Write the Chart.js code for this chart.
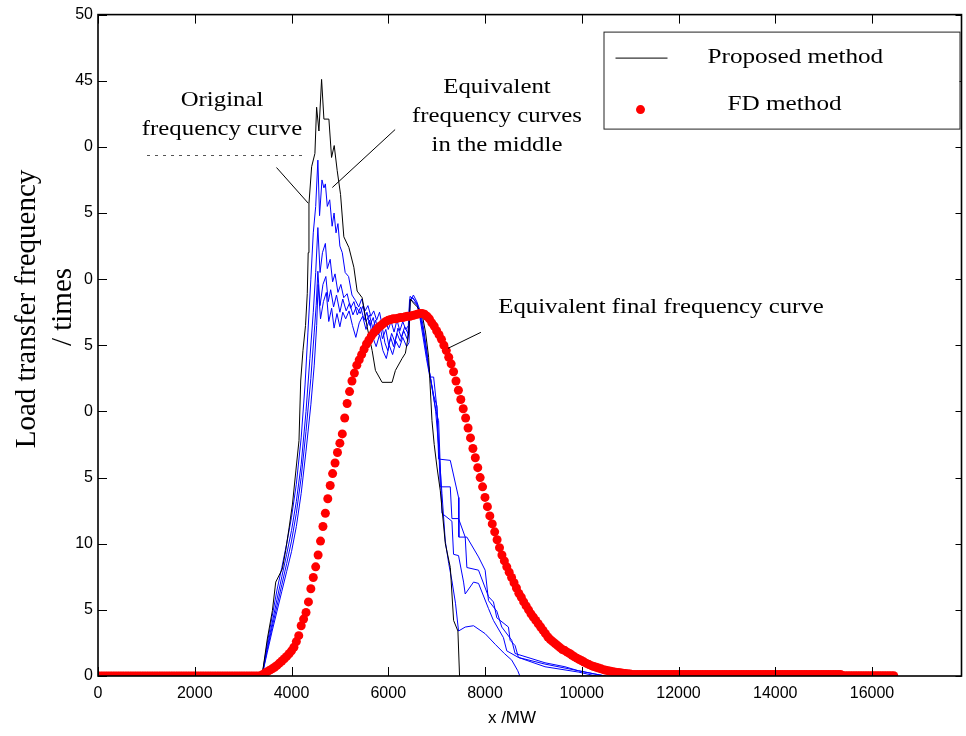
<!DOCTYPE html>
<html>
<head>
<meta charset="utf-8">
<script src="https://cdn.jsdelivr.net/npm/chart.js@4.4.1/dist/chart.umd.min.js"></script>
<style>
html,body{margin:0;padding:0;background:#ffffff;}
#wrap{width:966px;height:736px;}
</style>
</head>
<body>
<div id="wrap"><canvas id="c" width="966" height="736"></canvas></div>
<script>
// ---------------- DATA ----------------
const xTickValues = [0, 2000, 4000, 6000, 8000, 10000, 12000, 14000, 16000];
const yTickValues = [0, 5, 10, 15, 20, 25, 30, 35, 40, 45, 50];
const yTickLabels = ["0", "5", "10", "5", "0", "5", "0", "5", "0", "45", "50"];
const xAxisMin = 0, xAxisMax = 17850;
const yAxisMin = 0, yAxisMax = 50;

// Original frequency curve (Proposed method, black)
const originalX = [0, 3390, 3500, 3605, 3674, 3811, 3880, 3950, 4020, 4090, 4155, 4190, 4237, 4290, 4326, 4345, 4361, 4416, 4484, 4519, 4567, 4622, 4670, 4773, 4828, 4883, 4945, 5014, 5082, 5186, 5289, 5357, 5460, 5563, 5667, 5735, 5873, 6079, 6148, 6285, 6354, 6423, 6457, 6520, 6600, 6697, 6770, 6835, 6904, 6950, 7007, 7076, 7180, 7283, 7351, 7440, 7474, 16450];
const originalY = [0, 0, 2.8, 4.95, 7.1, 8.1, 9.5, 11.2, 13.0, 15.5, 17.8, 22.3, 24.6, 26.5, 28.9, 32.0, 35.7, 38.5, 39.5, 43.0, 41.2, 45.1, 42.1, 42.1, 39.2, 40.1, 38.2, 36.4, 33.2, 32.4, 30.9, 29.1, 28.6, 26.4, 24.6, 23.1, 22.2, 22.2, 23.1, 24.0, 24.4, 25.9, 28.5, 28.2, 27.9, 27.4, 26.0, 24.1, 19.3, 17.5, 15.8, 14.0, 10.0, 8.2, 4.2, 3.4, 0, 0];

// Equivalent frequency curves in the middle (blue)
const middle1X = [3000, 3390, 3500, 3600, 3700, 3800, 3900, 4000, 4100, 4200, 4280, 4340, 4400, 4450, 4500, 4545, 4580, 4630, 4670, 4700, 4740, 4790, 4840, 4880, 4920, 4960, 5000, 5050, 5110, 5180, 5250, 5320, 5390, 5450, 5520, 5580, 5640, 5700, 5760, 5820, 5880, 5940, 6000, 6060, 6120, 6180, 6240, 6300, 6360, 6420, 6450, 6520, 6600, 6660, 6720, 6780, 6850, 6920, 6980, 7050, 7110, 7179, 7250, 7316, 7390, 7453, 7591, 7763, 8003, 8210, 8400, 8553, 8677, 8720];
const middle1Y = [0, 0, 2.5, 4.5, 6.5, 8.2, 10, 12, 14.5, 18, 22, 26, 30, 33.5, 35.5, 39.0, 34.8, 37.5, 36.9, 37.2, 35.5, 36.0, 34.0, 35.0, 33.5, 34.2, 32.5, 32.0, 30.5, 30.2, 28.8, 28.4, 27.9, 28.5, 27.6, 28.0, 27.2, 27.6, 26.9, 27.5, 26.4, 27.1, 26.2, 26.8, 26.0, 26.9, 26.1, 26.8, 26.2, 26.5, 28.7, 28.5, 28.2, 27.6, 26.5, 25.0, 23.0, 21.5, 20.0, 17.0, 13.8, 10.2, 8.5, 7.2, 5.5, 3.4, 3.7, 3.8, 3.2, 2.4, 1.7, 1.2, 0.4, 0];

const middle2X = [3000, 3390, 3500, 3600, 3700, 3800, 3900, 4000, 4100, 4200, 4300, 4380, 4450, 4500, 4545, 4590, 4640, 4700, 4740, 4800, 4850, 4900, 4960, 5020, 5080, 5150, 5220, 5290, 5360, 5430, 5500, 5560, 5620, 5690, 5750, 5820, 5880, 5950, 6010, 6070, 6140, 6200, 6270, 6340, 6420, 6450, 6520, 6600, 6660, 6720, 6790, 6860, 6940, 7000, 7041, 7110, 7316, 7350, 7453, 7557, 7591, 7763, 7866, 8072, 8175, 8381, 8450, 8691, 9240, 9928, 10300];
const middle2Y = [0, 0, 2.2, 4, 5.8, 7.5, 9.2, 11, 13.2, 16, 20, 24, 27.5, 30.5, 33.9, 30.5, 32.0, 32.7, 30.8, 31.5, 29.8, 30.4, 29.0, 29.6, 28.6, 28.9, 27.8, 28.3, 27.3, 27.9, 26.9, 27.5, 26.5, 27.1, 26.0, 26.6, 25.5, 26.2, 25.0, 25.9, 25.2, 26.3, 25.6, 26.4, 25.8, 28.5, 28.3, 28.0, 27.3, 26.2, 24.6, 22.8, 21.0, 19.8, 19.3, 12.3, 11.7, 9.2, 9.1, 7.1, 6.2, 7.1, 7.0, 5.1, 4.2, 2.9, 1.9, 1.4, 0.7, 0.3, 0];

const middle3X = [3000, 3390, 3500, 3600, 3700, 3800, 3900, 4000, 4100, 4200, 4300, 4400, 4470, 4510, 4545, 4590, 4650, 4710, 4760, 4810, 4870, 4930, 5000, 5060, 5130, 5200, 5270, 5340, 5420, 5480, 5540, 5610, 5680, 5740, 5800, 5870, 5930, 5990, 6050, 6110, 6180, 6250, 6320, 6400, 6440, 6510, 6590, 6650, 6720, 6790, 6870, 6940, 7007, 7076, 7282, 7316, 7453, 7591, 7625, 7866, 8072, 8175, 8244, 8485, 8519, 8622, 8691, 9240, 9928, 10271, 10500];
const middle3Y = [0, 0, 2, 3.7, 5.3, 6.9, 8.5, 10.2, 12.3, 15, 18.5, 22.5, 26, 28, 30.6, 28.0, 29.6, 30.2, 28.3, 29.2, 27.9, 28.8, 27.5, 28.5, 27.6, 28.2, 27.3, 27.9, 27.4, 28.0, 26.8, 27.3, 26.3, 26.9, 25.8, 26.5, 25.2, 24.6, 25.6, 24.9, 25.9, 25.3, 26.1, 25.4, 28.4, 28.6, 28.1, 27.4, 26.0, 24.3, 22.6, 21.2, 20.4, 14.3, 14.3, 11.9, 11.9, 10.5, 8.2, 8.0, 6.0, 5.6, 4.4, 3.7, 2.7, 2.3, 1.4, 0.9, 0.4, 0.15, 0];

const middle4X = [3000, 3390, 3500, 3600, 3700, 3800, 3900, 4000, 4100, 4200, 4300, 4400, 4470, 4520, 4550, 4600, 4660, 4720, 4770, 4830, 4880, 4940, 5000, 5060, 5120, 5190, 5260, 5330, 5400, 5470, 5540, 5610, 5680, 5750, 5820, 5890, 5960, 6020, 6090, 6160, 6230, 6300, 6380, 6430, 6450, 6520, 6590, 6650, 6720, 6790, 6860, 6938, 7007, 7041, 7282, 7453, 7460, 7625, 7866, 8003, 8072, 8244, 8347, 8553, 8622, 9240, 9653, 9928, 10478];
const middle4Y = [0, 0, 1.8, 3.4, 4.9, 6.4, 7.9, 9.4, 11.3, 13.8, 17, 20.5, 23.5, 26.5, 29.6, 27.0, 28.3, 29.0, 26.8, 27.8, 26.3, 27.4, 26.4, 27.5, 27.0, 27.6, 26.5, 25.6, 26.7, 27.2, 26.2, 26.9, 25.6, 24.9, 25.8, 24.6, 24.0, 25.0, 24.3, 25.3, 24.8, 25.6, 24.9, 25.2, 28.3, 28.8, 28.3, 27.2, 25.6, 24.0, 22.6, 22.6, 20.2, 16.4, 16.3, 13.5, 10.5, 10.5, 9.0, 8.0, 5.7, 4.9, 3.7, 2.7, 1.7, 1.0, 0.7, 0.4, 0];

// FD method (red dots), sampled every 50 MW starting at 0 MW
const fdStartMW = 0, fdStepMW = 50;
const fdValues = [
  0,0,0,0,0,0,0,0,0,0,0,0,0,0,0,0,0,0,0,0,
  0,0,0,0,0,0,0,0,0,0,0,0,0,0,0,0,0,0,0,0,
  0,0,0,0,0,0,0,0,0,0,0,0,0,0,0,0,0,0,0,0,
  0,0,0,0,0,0,0,0,
  0.1,0.22,0.33,0.44,0.54,0.66,0.8,0.97,1.13,1.3,1.48,1.68,
  1.9,2.17,2.6,3.05,3.8,4.3,4.8,5.6,6.6,7.45,8.25,9.15,10.2,11.3,12.3,13.4,14.4,15.3,16.1,16.9,
  17.6,18.3,19.5,20.6,21.5,22.3,22.9,23.5,23.9,24.3,24.7,25.1,25.4,25.7,25.95,26.15,26.35,26.5,26.65,26.8,
  26.9,26.95,27.0,27.0,27.05,27.1,27.1,27.15,27.2,27.2,27.25,27.3,27.35,27.4,27.4,27.35,27.2,27.0,26.7,26.45,
  26.1,25.8,25.45,25.0,24.6,24.1,23.6,23.0,22.3,21.6,20.9,20.2,19.5,18.75,18.0,17.2,16.5,15.75,15.0,14.3,
  13.5,12.8,12.1,11.5,10.9,10.3,9.7,9.15,8.7,8.25,7.85,7.45,7.05,6.65,6.25,5.95,5.6,5.3,5.0,4.7,
  4.45,4.2,3.95,3.7,3.45,3.2,2.95,2.75,2.6,2.45,2.3,2.15,2.0,1.92,1.8,1.7,1.57,1.45,1.35,1.25,
  1.15,1.05,0.95,0.86,0.78,0.72,0.66,0.6,0.54,0.48,0.43,0.39,0.35,0.32,0.29,0.27,0.24,0.21,0.19,0.17,
  0.15,0.12,0.12,0.12,0.12,0.12,0.12,0.12,0.12,0.12,0.12,0.12,0.12,0.12,0.12,0.12,0.12,0.12,0.12,0.12,
  0.12,0.12,0.12,0.12,0.12,0.12,0.12,0.12,0.12,0.12,0.12,0.12,0.12,0.12,0.12,0.12,0.12,0.12,0.12,0.12,
  0.12,0.12,0.12,0.12,0.12,0.12,0.12,0.12,0.12,0.12,0.12,0.12,0.12,0.12,0.12,0.12,0.12,0.12,0.12,0.12,
  0.12,0.12,0.12,0.12,0.12,0.12,0.12,0.12,0.12,0.12,0.12,0.12,0.12,0.12,0.12,0.12,0.12,0.12,0.12,0.12,
  0.12,0.12,0.12,0.12,0.12,0.12,0.12,0.12,
  0.02,0.02,0.02,0.02,0.02,0.02,0.02,0.02,0.02,0.02,0.02,0.02,
  0.02,0.02,0.02,0.02,0.02,0.02,0.02,0.02,0.02,0.02
];

const legendLabels = ["Proposed method", "FD method"];
const yTitleLines = ["Load transfer frequency", "/ times"];
const xTitle = "x /MW";

// Annotation leader lines in data coordinates [x1,y1,x2,y2]
const leaderOriginal = [3690, 38.44, 4349, 35.73];
const leaderMiddle = [6142, 41.31, 4844, 36.93];
const leaderFinal = [7915, 25.98, 7235, 24.77];

// ---------------- BUILD ----------------
const toPoints = (xs, ys) => xs.map((x, i) => ({x: x, y: ys[i]}));
const fdX = fdValues.map((_, i) => fdStartMW + i * fdStepMW);

const SERIF = "'Liberation Serif', 'Times New Roman', serif";
const SANS = "'Liberation Sans', Arial, sans-serif";

function stretchedText(ctx, text, x, y, size, align, sx) {
  ctx.save();
  ctx.translate(x, y);
  ctx.scale(sx, 1);
  ctx.font = size + 'px ' + SERIF;
  ctx.textAlign = align;
  ctx.textBaseline = 'middle';
  ctx.fillStyle = '#000';
  ctx.fillText(text, 0, 0);
  ctx.restore();
}

const decorPlugin = {
  id: 'decor',
  afterDraw(chart) {
    const {ctx, chartArea: a, scales: {x, y}} = chart;
    ctx.save();
    // inward tick marks
    ctx.strokeStyle = '#000';
    ctx.lineWidth = 1;
    ctx.beginPath();
    xTickValues.forEach(v => {
      const px = Math.round(x.getPixelForValue(v)) + 0.5;
      ctx.moveTo(px, a.bottom); ctx.lineTo(px, a.bottom - 9);
      ctx.moveTo(px, a.top); ctx.lineTo(px, a.top + 9);
    });
    yTickValues.forEach(v => {
      const py = Math.round(y.getPixelForValue(v)) + 0.5;
      ctx.moveTo(a.left, py); ctx.lineTo(a.left + 9, py);
      ctx.moveTo(a.right, py); ctx.lineTo(a.right - 6, py);
    });
    ctx.stroke();
    // frame
    ctx.lineWidth = 1.6;
    ctx.strokeRect(a.left, a.top, a.right - a.left, a.bottom - a.top);

    // leader lines
    ctx.lineWidth = 1;
    ctx.beginPath();
    [leaderOriginal, leaderMiddle, leaderFinal].forEach(l => {
      ctx.moveTo(x.getPixelForValue(l[0]), y.getPixelForValue(l[1]));
      ctx.lineTo(x.getPixelForValue(l[2]), y.getPixelForValue(l[3]));
    });
    ctx.stroke();

    // annotation texts
    const sx = 1.18, fs = 21;
    stretchedText(ctx, "Original", 222, 100, fs, 'center', sx);
    stretchedText(ctx, "frequency curve", 222, 129, fs, 'center', sx);
    stretchedText(ctx, "Equivalent", 497, 87, fs, 'center', sx);
    stretchedText(ctx, "frequency curves", 497, 116, fs, 'center', sx);
    stretchedText(ctx, "in the middle", 497, 145, fs, 'center', sx);
    stretchedText(ctx, "Equivalent final frequency curve", 661, 307, fs, 'center', sx);

    // faint broken line under "Original frequency curve"
    ctx.save();
    ctx.strokeStyle = '#555';
    ctx.setLineDash([3, 5]);
    ctx.lineWidth = 1;
    ctx.beginPath();
    ctx.moveTo(147, 155.5); ctx.lineTo(303, 155.5);
    ctx.stroke();
    ctx.restore();

    // legend box
    const lx = a.right - 358, ly = a.top + 17, lw = 356, lh = 97;
    ctx.fillStyle = '#fff';
    ctx.fillRect(lx, ly, lw, lh);
    ctx.strokeStyle = '#222';
    ctx.lineWidth = 1;
    ctx.strokeRect(lx + 0.5, ly + 0.5, lw, lh);
    ctx.strokeStyle = '#000';
    ctx.beginPath();
    ctx.moveTo(lx + 12, ly + 26.5); ctx.lineTo(lx + 64, ly + 26.5);
    ctx.stroke();
    ctx.fillStyle = '#ff0000';
    ctx.beginPath();
    ctx.arc(lx + 37, ly + 78, 4.5, 0, Math.PI * 2);
    ctx.fill();
    stretchedText(ctx, legendLabels[0], lx + 104, ly + 26, fs, 'left', 1.2);
    stretchedText(ctx, legendLabels[1], lx + 124, ly + 73, fs, 'left', 1.2);

    // axis titles
    ctx.fillStyle = '#000';
    ctx.save();
    ctx.font = '29px ' + SERIF;
    ctx.textAlign = 'center';
    ctx.textBaseline = 'middle';
    ctx.translate(27, 309);
    ctx.rotate(-Math.PI / 2);
    ctx.fillText(yTitleLines[0], 0, 0);
    ctx.fillText(yTitleLines[1], 2, 36);
    ctx.restore();
    ctx.font = '17px ' + SANS;
    ctx.textAlign = 'center';
    ctx.textBaseline = 'middle';
    ctx.fillText(xTitle, 512, 718);
    ctx.restore();
  }
};

const blueStyle = {borderColor: '#0000ff', borderWidth: 1, pointRadius: 0, fill: false, tension: 0, order: 2};

new Chart(document.getElementById('c'), {
  type: 'line',
  data: {
    datasets: [
      {label: legendLabels[1], data: toPoints(fdX, fdValues), showLine: false, pointRadius: 4.5,
       pointBackgroundColor: '#ff0000', pointBorderWidth: 0, pointBorderColor: '#ff0000',
       borderColor: '#ff0000', backgroundColor: '#ff0000', order: 0},
      {label: legendLabels[0], data: toPoints(originalX, originalY), borderColor: '#000000', borderWidth: 1,
       pointRadius: 0, fill: false, tension: 0, order: 1},
      Object.assign({label: 'middle 1', data: toPoints(middle1X, middle1Y)}, blueStyle),
      Object.assign({label: 'middle 2', data: toPoints(middle2X, middle2Y)}, blueStyle),
      Object.assign({label: 'middle 3', data: toPoints(middle3X, middle3Y)}, blueStyle),
      Object.assign({label: 'middle 4', data: toPoints(middle4X, middle4Y)}, blueStyle)
    ]
  },
  options: {
    responsive: false,
    animation: false,
    devicePixelRatio: 1,
    layout: {padding: {top: 14, right: 2, left: 0, bottom: 0}},
    plugins: {legend: {display: false}, tooltip: {enabled: false}},
    scales: {
      x: {
        type: 'linear', min: xAxisMin, max: xAxisMax,
        afterBuildTicks: s => { s.ticks = xTickValues.map(v => ({value: v})); },
        ticks: {font: {family: SANS, size: 16}, color: '#000', padding: 8, maxRotation: 0, minRotation: 0, autoSkip: false,
                callback: v => String(v)},
        grid: {display: false, drawTicks: false},
        border: {display: false},
        afterFit: s => { s.height = 60; }
      },
      y: {
        type: 'linear', min: yAxisMin, max: yAxisMax,
        afterBuildTicks: s => { s.ticks = yTickValues.map(v => ({value: v})); },
        ticks: {font: {family: SANS, size: 16}, color: '#000', padding: 5, autoSkip: false,
                callback: v => { const i = yTickValues.indexOf(v); return i >= 0 ? yTickLabels[i] : ''; }},
        grid: {display: false, drawTicks: false},
        border: {display: false},
        afterFit: s => { s.width = 98; }
      }
    }
  },
  plugins: [decorPlugin]
});
</script>
</body>
</html>
